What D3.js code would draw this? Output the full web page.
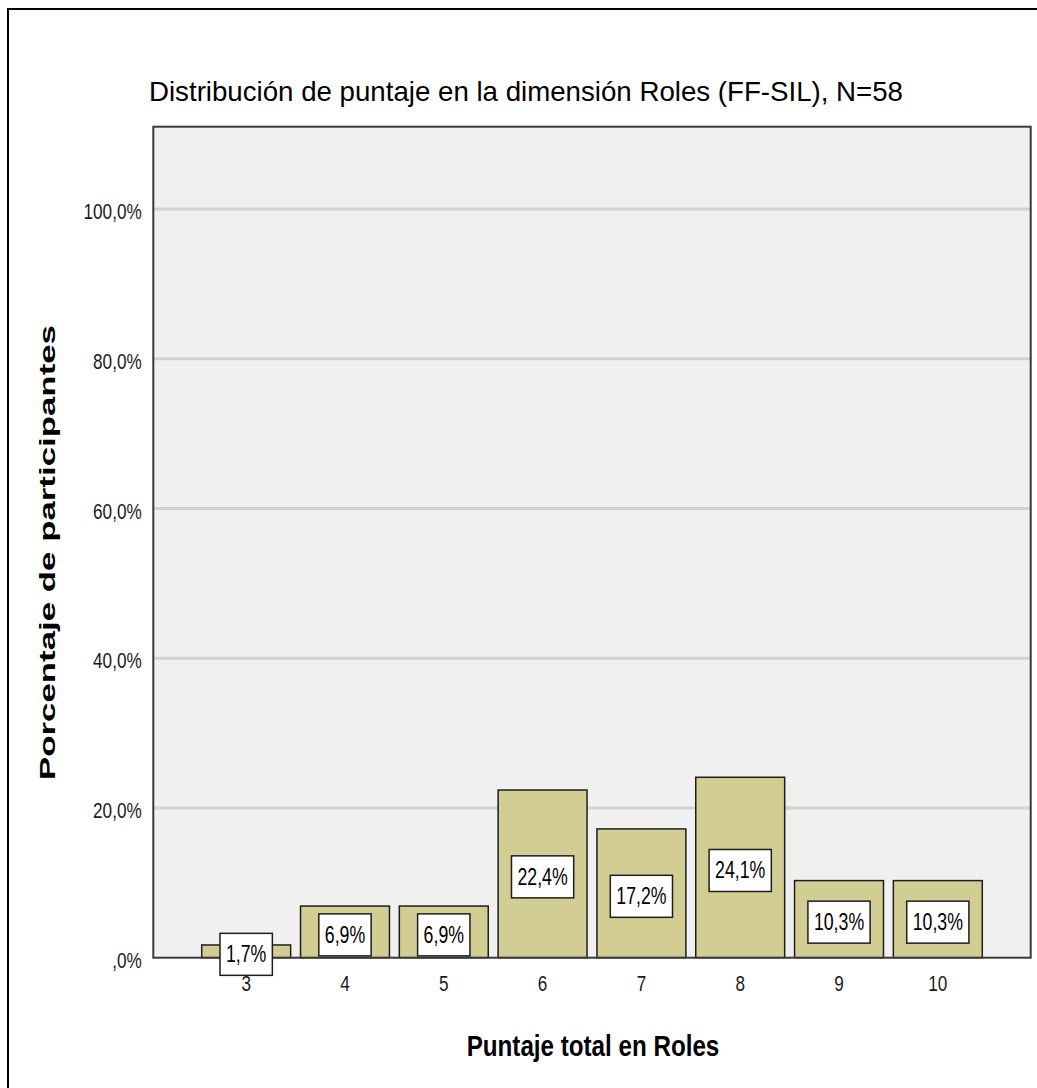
<!DOCTYPE html>
<html>
<head>
<meta charset="utf-8">
<script src="https://cdn.jsdelivr.net/npm/d3@7"></script>
<style>
  html, body { margin: 0; padding: 0; background: #fff; }
  svg { display: block; }
  text { font-family: "Liberation Sans", Arial, sans-serif; }
</style>
</head>
<body>
<svg id="chart" width="1037" height="1088"></svg>
<script>
// ---- data ----
const categories = ["3", "4", "5", "6", "7", "8", "9", "10"];
const percentages = [1.7, 6.9, 6.9, 22.4, 17.2, 24.1, 10.3, 10.3];
const yTicks = [0, 20, 40, 60, 80, 100];
const titleText = "Distribución de puntaje en la dimensión Roles (FF-SIL), N=58";
const xTitleText = "Puntaje total en Roles";
const yTitleText = "Porcentaje de participantes";

const fmt = v => (v === 0 ? ",0" : v.toFixed(1).replace(".", ",")) + "%";

const svg = d3.select("#chart");
const plot = { left: 153.3, right: 1030.7, top: 126.7, bottom: 957.7 };
const SX = 0.77; // horizontal compression of glyphs in the reference

// outer frame
svg.append("rect")
  .attr("x", 8).attr("y", 9).attr("width", 1040).attr("height", 1090)
  .attr("fill", "none").attr("stroke", "#000").attr("stroke-width", 2);

const x = d3.scaleBand().domain(categories)
  .range([plot.left, plot.right]).paddingInner(0.1).paddingOuter(0.49);
const y = d3.scaleLinear().domain([0, 111]).range([plot.bottom, plot.top]);

// plot background
svg.append("rect")
  .attr("x", plot.left).attr("y", plot.top)
  .attr("width", plot.right - plot.left).attr("height", plot.bottom - plot.top)
  .attr("fill", "#f0f0f0");

// gridlines
svg.append("g").selectAll("line").data(yTicks.filter(d => d > 0)).join("line")
  .attr("x1", plot.left).attr("x2", plot.right)
  .attr("y1", d => y(d)).attr("y2", d => y(d))
  .attr("stroke", "#d2d2d2").attr("stroke-width", 3);

// bars
svg.append("g").selectAll("rect").data(percentages).join("rect")
  .attr("x", (d, i) => x(categories[i]))
  .attr("y", d => y(d))
  .attr("width", x.bandwidth())
  .attr("height", d => y(0) - y(d))
  .attr("fill", "#d2cd93")
  .attr("stroke", "#1e1e1e").attr("stroke-width", 1.5);

// plot border
svg.append("rect")
  .attr("x", plot.left).attr("y", plot.top)
  .attr("width", plot.right - plot.left).attr("height", plot.bottom - plot.top)
  .attr("fill", "none").attr("stroke", "#3a3a3a").attr("stroke-width", 2);

// y axis tick labels
const yAxis = d3.axisLeft(y).tickValues(yTicks).tickFormat(fmt).tickSize(0).tickPadding(0);
const gy = svg.append("g").attr("transform", `translate(${plot.left},0)`).call(yAxis);
gy.select(".domain").remove();
gy.selectAll(".tick text")
  .attr("x", 0).attr("dy", null).attr("y", 0)
  .attr("font-size", 22).attr("fill", "#1a1a1a")
  .attr("text-anchor", "end")
  .attr("transform", `translate(-11.6,9.5) scale(0.78,1)`);

// x axis tick labels
const xAxis = d3.axisBottom(x).tickSize(0).tickPadding(0);
const gx = svg.append("g").attr("transform", `translate(0,${plot.bottom})`).call(xAxis);
gx.select(".domain").remove();
gx.selectAll(".tick text")
  .attr("y", 0).attr("dy", null)
  .attr("font-size", 22).attr("fill", "#1a1a1a")
  .attr("text-anchor", "middle")
  .attr("transform", `translate(0,33) scale(0.78,1)`);

// value labels
const lab = svg.append("g").selectAll("g").data(percentages).join("g")
  .attr("transform", (d, i) => {
    const cx = x(categories[i]) + x.bandwidth() / 2;
    const cy = (y(d) + y(0)) / 2 + 3;
    return `translate(${cx},${cy})`;
  });
const boxRect = lab.append("rect").attr("fill", "#fff").attr("stroke", "#1e1e1e").attr("stroke-width", 1.5);
const boxText = lab.append("text")
  .attr("font-size", 23).attr("fill", "#000").attr("text-anchor", "middle")
  .attr("transform", `translate(0,8) scale(${SX},1)`)
  .text(d => fmt(d));
boxText.each(function(d, i) {
  const w = this.getComputedTextLength() * SX + 12;
  d3.select(boxRect.nodes()[i])
    .attr("x", -w / 2).attr("y", -21).attr("width", w).attr("height", 42);
});

// title
svg.append("text")
  .attr("x", 149).attr("y", 100.7)
  .attr("font-size", 28.5).attr("fill", "#000")
  .attr("textLength", 754).attr("lengthAdjust", "spacingAndGlyphs")
  .text(titleText);

// x axis title
svg.append("text")
  .attr("x", 466.7).attr("y", 1056)
  .attr("font-size", 29).attr("font-weight", "bold").attr("fill", "#000")
  .attr("textLength", 252.6).attr("lengthAdjust", "spacingAndGlyphs")
  .text(xTitleText);

// y axis title
svg.append("text")
  .attr("transform", "translate(55,780) rotate(-90) scale(1,0.85)")
  .attr("x", 0).attr("y", 0)
  .attr("font-size", 27).attr("font-weight", "bold").attr("fill", "#000")
  .attr("textLength", 455).attr("lengthAdjust", "spacingAndGlyphs")
  .text(yTitleText);
</script>
</body>
</html>
